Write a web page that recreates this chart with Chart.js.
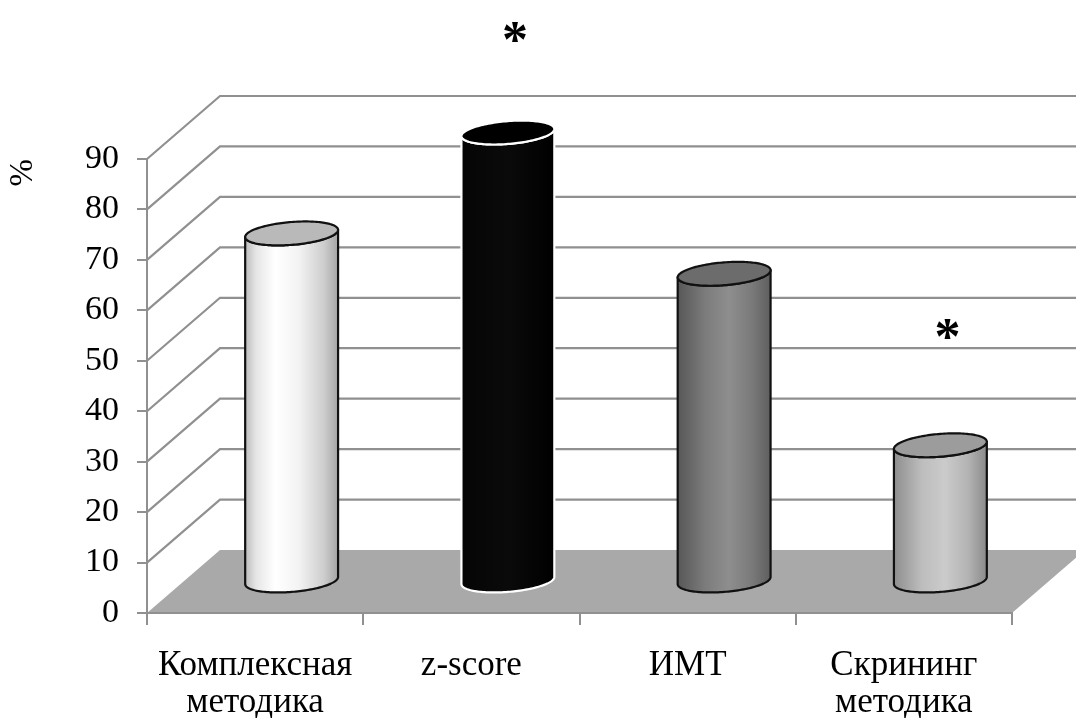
<!DOCTYPE html>
<html>
<head>
<meta charset="utf-8">
<script src="https://cdn.jsdelivr.net/npm/chart.js@4"></script>
<style>
  html, body { margin: 0; padding: 0; background: #ffffff; }
  #wrap { width: 1076px; height: 718px; }
</style>
</head>
<body>
<div id="wrap"><canvas id="chart" width="1076" height="718"></canvas></div>
<script>
// Share of cases detected by each method, %
const categories = [['Комплексная', 'методика'], 'z-score', 'ИМТ', ['Скрининг', 'методика']];
const percentValues = [69, 89, 61, 27];
const yTickValues = [0, 10, 20, 30, 40, 50, 60, 70, 80, 90];
// Level (in axis units) at which a significance mark "*" is placed; null = no mark
const markLevels = [null, 109, null, 50];

// Cylinder looks, one per category
const cylinderStyles = [
  { top: '#b9b9b9', edge: '#111111', stops: [[0, '#bcbcbc'], [0.12, '#e6e6e6'], [0.32, '#ffffff'], [0.58, '#f3f3f3'], [0.85, '#cdcdcd'], [1, '#a4a4a4']] },
  { top: '#000000', edge: '#ffffff', stops: [[0, '#050505'], [0.5, '#0a0a0a'], [1, '#000000']] },
  { top: '#6c6c6c', edge: '#111111', stops: [[0, '#575757'], [0.3, '#7c7c7c'], [0.55, '#8e8e8e'], [0.8, '#7a7a7a'], [1, '#5e5e5e']] },
  { top: '#9c9c9c', edge: '#111111', stops: [[0, '#8e8e8e'], [0.3, '#bdbdbd'], [0.55, '#cbcbcb'], [0.8, '#b3b3b3'], [1, '#8a8a8a']] }
];

// Oblique depth of the 3-D box (screen offset of the back wall from the front plane)
const DEPTH_DX = 73;
const DEPTH_DY = -63;
const CYL_DEPTH = 0.19;      // cylinder radius along depth, as a share of the depth vector
const GRID_COLOR = '#909090';
const FLOOR_COLOR = '#a9a9a9';
const SERIF = "'Liberation Serif', 'Times New Roman', serif";

// Back wall gridlines + floor, drawn under everything else
const box3d = {
  id: 'box3d',
  beforeDraw(chart) {
    const { ctx, chartArea: ca, scales } = chart;
    const y = scales.y;
    ctx.save();
    ctx.fillStyle = '#ffffff';
    ctx.fillRect(0, 0, chart.width, chart.height);
    ctx.strokeStyle = GRID_COLOR;
    ctx.lineWidth = 2.2;
    yTickValues.forEach(v => {
      if (v === 0) return;
      const py = y.getPixelForValue(v);
      ctx.beginPath();
      ctx.moveTo(ca.left, py);
      ctx.lineTo(ca.left + DEPTH_DX, py + DEPTH_DY);
      ctx.lineTo(ca.right + DEPTH_DX, py + DEPTH_DY);
      ctx.stroke();
    });
    const p0 = y.getPixelForValue(0);
    ctx.beginPath();
    ctx.moveTo(ca.left, p0);
    ctx.lineTo(ca.left + DEPTH_DX, p0 + DEPTH_DY);
    ctx.lineTo(ca.right + DEPTH_DX, p0 + DEPTH_DY);
    ctx.lineTo(ca.right, p0);
    ctx.closePath();
    ctx.fillStyle = FLOOR_COLOR;
    ctx.fill();
    ctx.restore();
  }
};

function drawCylinder(ctx, cx, cyTop, cyBot, R, style) {
  const a = CYL_DEPTH * DEPTH_DX;
  const b = -CYL_DEPTH * DEPTH_DY;
  const t0 = Math.atan2(a, R);
  const half = Math.hypot(R, a);
  const pt = (cy, t) => [cx + R * Math.cos(t) + a * Math.sin(t), cy - b * Math.sin(t)];
  const N = 72;

  // side surface: bottom front rim, right edge, top front rim back to the left edge
  ctx.beginPath();
  for (let i = 0; i <= N; i++) {
    const [x, yy] = pt(cyBot, t0 + Math.PI + Math.PI * i / N);
    if (i === 0) ctx.moveTo(x, yy); else ctx.lineTo(x, yy);
  }
  for (let i = N; i >= 0; i--) {
    const [x, yy] = pt(cyTop, t0 + Math.PI + Math.PI * i / N);
    ctx.lineTo(x, yy);
  }
  ctx.closePath();
  const g = ctx.createLinearGradient(cx - half, 0, cx + half, 0);
  style.stops.forEach(([o, c]) => g.addColorStop(o, c));
  ctx.fillStyle = g;
  ctx.fill();
  ctx.strokeStyle = style.edge;
  ctx.lineWidth = 2.2;
  ctx.lineJoin = 'round';
  ctx.stroke();

  // top cap
  ctx.beginPath();
  for (let i = 0; i <= 2 * N; i++) {
    const [x, yy] = pt(cyTop, Math.PI * i / N);
    if (i === 0) ctx.moveTo(x, yy); else ctx.lineTo(x, yy);
  }
  ctx.closePath();
  ctx.fillStyle = style.top;
  ctx.fill();
  ctx.stroke();
}

const cylinders = {
  id: 'cylinders',
  afterDatasetsDraw(chart) {
    const { ctx, scales } = chart;
    const meta = chart.getDatasetMeta(0);
    ctx.save();
    meta.data.forEach((bar, i) => {
      const cx = bar.x + DEPTH_DX / 2;
      drawCylinder(ctx, cx, bar.y + DEPTH_DY / 2, bar.base + DEPTH_DY / 2, bar.width / 2, cylinderStyles[i]);
    });
    // significance marks
    ctx.fillStyle = '#000000';
    ctx.font = 'bold 52px ' + SERIF;
    ctx.textAlign = 'center';
    ctx.textBaseline = 'alphabetic';
    const m = ctx.measureText('*');
    const mid = (m.actualBoundingBoxAscent - m.actualBoundingBoxDescent) / 2;
    markLevels.forEach((lv, i) => {
      if (lv === null) return;
      const bar = meta.data[i];
      const px = bar.x + DEPTH_DX / 2 + 7;
      const py = scales.y.getPixelForValue(lv) + DEPTH_DY / 2;
      ctx.fillText('*', px, py + mid);
    });
    ctx.restore();
  }
};

new Chart(document.getElementById('chart'), {
  type: 'bar',
  data: {
    labels: categories,
    datasets: [{
      data: percentValues,
      backgroundColor: 'rgba(0,0,0,0)',
      borderWidth: 0,
      barPercentage: 0.41,
      categoryPercentage: 1
    }]
  },
  options: {
    responsive: false,
    animation: false,
    devicePixelRatio: 1,
    layout: { padding: { top: 159, right: 64, left: 0, bottom: 0 } },
    plugins: { legend: { display: false }, tooltip: { enabled: false } },
    scales: {
      x: {
        offset: true,
        grid: { offset: true, drawOnChartArea: false, tickLength: 12, color: GRID_COLOR, lineWidth: 2 },
        border: { display: true, color: GRID_COLOR, width: 2 },
        ticks: { color: '#000', font: { family: SERIF, size: 35, lineHeight: 1.06 }, padding: 22, maxRotation: 0, autoSkip: false },
        afterFit(s) { s.height = 105; }
      },
      y: {
        min: 0,
        max: 90,
        afterBuildTicks(s) { s.ticks = yTickValues.map(v => ({ value: v })); },
        grid: { drawOnChartArea: false, tickLength: 10, color: GRID_COLOR, lineWidth: 2 },
        border: { display: true, color: GRID_COLOR, width: 2 },
        ticks: { color: '#000', font: { family: SERIF, size: 34 }, padding: 18 },
        title: { display: true, text: '%', color: '#000', font: { family: SERIF, size: 33 }, align: 'end', padding: { top: 4, bottom: 0 } },
        afterFit(s) { s.width = 147; }
      }
    }
  },
  plugins: [box3d, cylinders]
});
</script>
</body>
</html>
